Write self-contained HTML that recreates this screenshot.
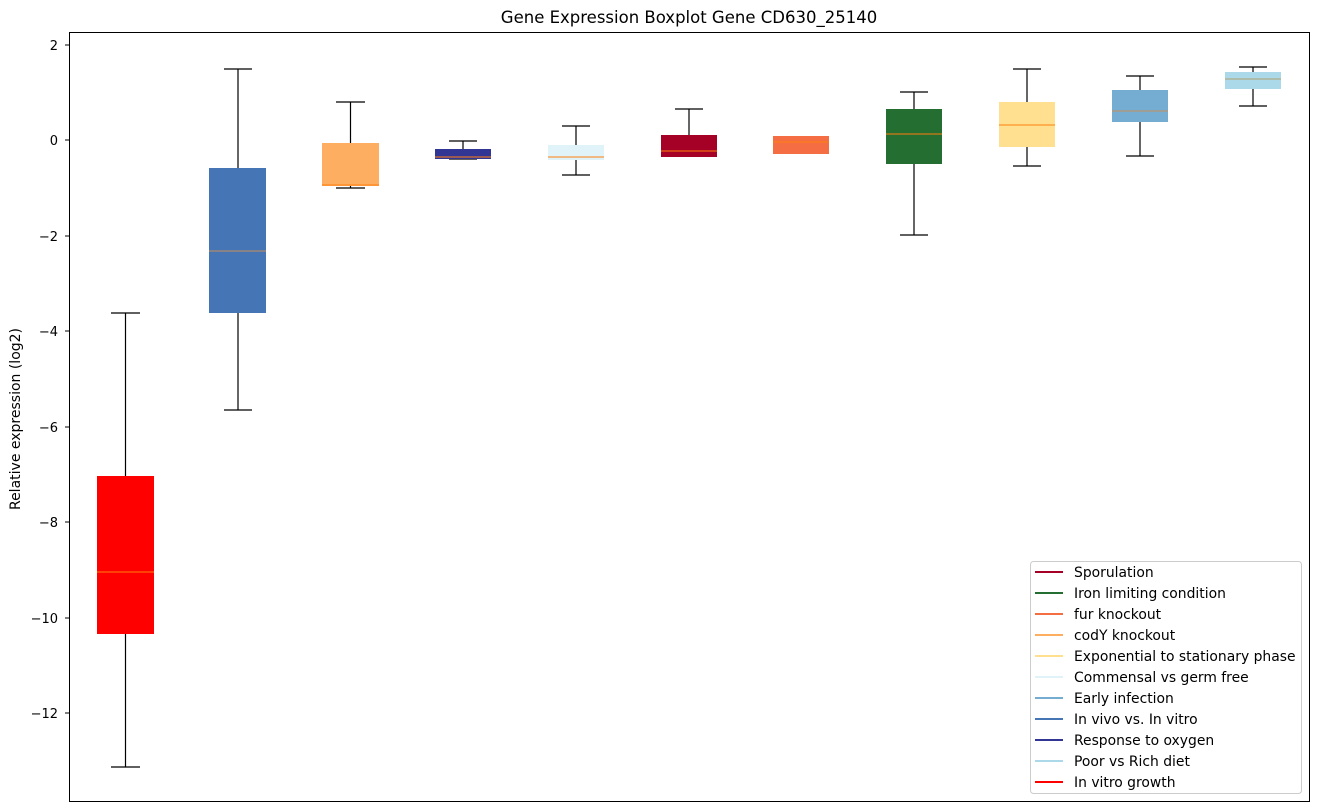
<!DOCTYPE html>
<html><head><meta charset="utf-8"><style>
html,body{margin:0;padding:0;background:#fff;}
svg{display:block;font-family:"Liberation Sans","DejaVu Sans",sans-serif;}
</style></head><body>
<svg width="1318" height="812" xmlns="http://www.w3.org/2000/svg">
<rect width="1318" height="812" fill="#fff"/>
<text x="689" y="23" font-size="16.5" text-anchor="middle" fill="#000" font-family="DejaVu Sans, sans-serif">Gene Expression Boxplot Gene CD630_25140</text>
<g font-size="13" fill="#000" text-anchor="end" font-family="DejaVu Sans, sans-serif">
<text x="58" y="50">2</text>
<text x="58" y="145">0</text>
<text x="58" y="241">−2</text>
<text x="58" y="336">−4</text>
<text x="58" y="432">−6</text>
<text x="58" y="527">−8</text>
<text x="58" y="623">−10</text>
<text x="58" y="718">−12</text>
</g>
<g stroke="#000" stroke-width="1">
<line x1="65" y1="45" x2="69" y2="45"/><line x1="65" y1="140" x2="69" y2="140"/>
<line x1="65" y1="236" x2="69" y2="236"/><line x1="65" y1="331" x2="69" y2="331"/>
<line x1="65" y1="427" x2="69" y2="427"/><line x1="65" y1="522" x2="69" y2="522"/>
<line x1="65" y1="618" x2="69" y2="618"/><line x1="65" y1="713" x2="69" y2="713"/>
</g>
<text transform="translate(20,419) rotate(-90)" font-size="14" text-anchor="middle" font-family="DejaVu Sans, sans-serif">Relative expression (log2)</text>
<g stroke="#000" stroke-width="1.2" fill="none">
<path d="M125.5 313V476M111 313H140M125.5 634V767M111 767H140"/>
<path d="M238 69V168M224 69H252M238 313V410M224 410H252"/>
<path d="M350.5 102V143M336 102H365M350.5 186V188M336 188H365"/>
<path d="M463 141V149M449 141H477M449 159H477"/>
<path d="M576 126V145M562 126H590M576 160V175M562 175H590"/>
<path d="M689 109V135M675 109H703"/>
<path d="M914 92V109M900 92H928M914 164V235M900 235H928"/>
<path d="M1027 69V102M1013 69H1041M1027 147V166M1013 166H1041"/>
<path d="M1140 76V90M1126 76H1154M1140 122V156M1126 156H1154"/>
<path d="M1253 67V72M1239 67H1267M1253 89V106M1239 106H1267"/>
</g>
<g>
<rect x="97" y="476" width="57" height="158" fill="#ff0000"/>
<rect x="209" y="168" width="57" height="145" fill="#4575b4"/>
<rect x="322" y="143" width="57" height="43" fill="#fdae61"/>
<rect x="435" y="149" width="56" height="10" fill="#313695"/>
<rect x="548" y="145" width="56" height="15" fill="#e0f3f8"/>
<rect x="661" y="135" width="56" height="22" fill="#a50026"/>
<rect x="773" y="136" width="56" height="18" fill="#f46d43"/>
<rect x="886" y="109" width="56" height="55" fill="#236e30"/>
<rect x="999" y="102" width="56" height="45" fill="#fee090"/>
<rect x="1112" y="90" width="56" height="32" fill="#74add1"/>
<rect x="1225" y="72" width="56" height="17" fill="#abd9e9"/>
</g>
<g stroke="#ff7f0e" stroke-width="1">
<line x1="97" y1="572" x2="154" y2="572"/>
<line x1="209" y1="251" x2="266" y2="251" stroke="#c8905a"/>
<line x1="322" y1="185" x2="379" y2="185"/>
<line x1="435" y1="157" x2="491" y2="157"/>
<line x1="548" y1="157" x2="604" y2="157"/>
<line x1="661" y1="151" x2="717" y2="151"/>
<line x1="773" y1="142" x2="829" y2="142"/>
<line x1="886" y1="134" x2="942" y2="134"/>
<line x1="999" y1="125" x2="1055" y2="125"/>
<line x1="1112" y1="111" x2="1168" y2="111" stroke="#c8905a"/>
<line x1="1225" y1="79" x2="1281" y2="79" stroke="#b0a070"/>
</g>
<rect x="69.5" y="32.5" width="1240" height="769" fill="none" stroke="#000" stroke-width="1"/>
<rect x="1030.5" y="561.5" width="271" height="232" rx="3" fill="#fff" stroke="#ccc"/>
<g stroke-width="2">
<line x1="1035" y1="572" x2="1063" y2="572" stroke="#a50026"/>
<line x1="1035" y1="593" x2="1063" y2="593" stroke="#236e30"/>
<line x1="1035" y1="614" x2="1063" y2="614" stroke="#f46d43"/>
<line x1="1035" y1="635" x2="1063" y2="635" stroke="#fdae61"/>
<line x1="1035" y1="656" x2="1063" y2="656" stroke="#fee090"/>
<line x1="1035" y1="677" x2="1063" y2="677" stroke="#e0f3f8"/>
<line x1="1035" y1="698" x2="1063" y2="698" stroke="#74add1"/>
<line x1="1035" y1="719" x2="1063" y2="719" stroke="#4575b4"/>
<line x1="1035" y1="740" x2="1063" y2="740" stroke="#313695"/>
<line x1="1035" y1="761" x2="1063" y2="761" stroke="#abd9e9"/>
<line x1="1035" y1="782" x2="1063" y2="782" stroke="#ff0000"/>
</g>
<g font-size="13.9" fill="#000" font-family="DejaVu Sans, sans-serif">
<text x="1074" y="577">Sporulation</text>
<text x="1074" y="598">Iron limiting condition</text>
<text x="1074" y="619">fur knockout</text>
<text x="1074" y="640">codY knockout</text>
<text x="1074" y="661">Exponential to stationary phase</text>
<text x="1074" y="682">Commensal vs germ free</text>
<text x="1074" y="703">Early infection</text>
<text x="1074" y="724">In vivo vs. In vitro</text>
<text x="1074" y="745">Response to oxygen</text>
<text x="1074" y="766">Poor vs Rich diet</text>
<text x="1074" y="787">In vitro growth</text>
</g>
</svg>
</body></html>
